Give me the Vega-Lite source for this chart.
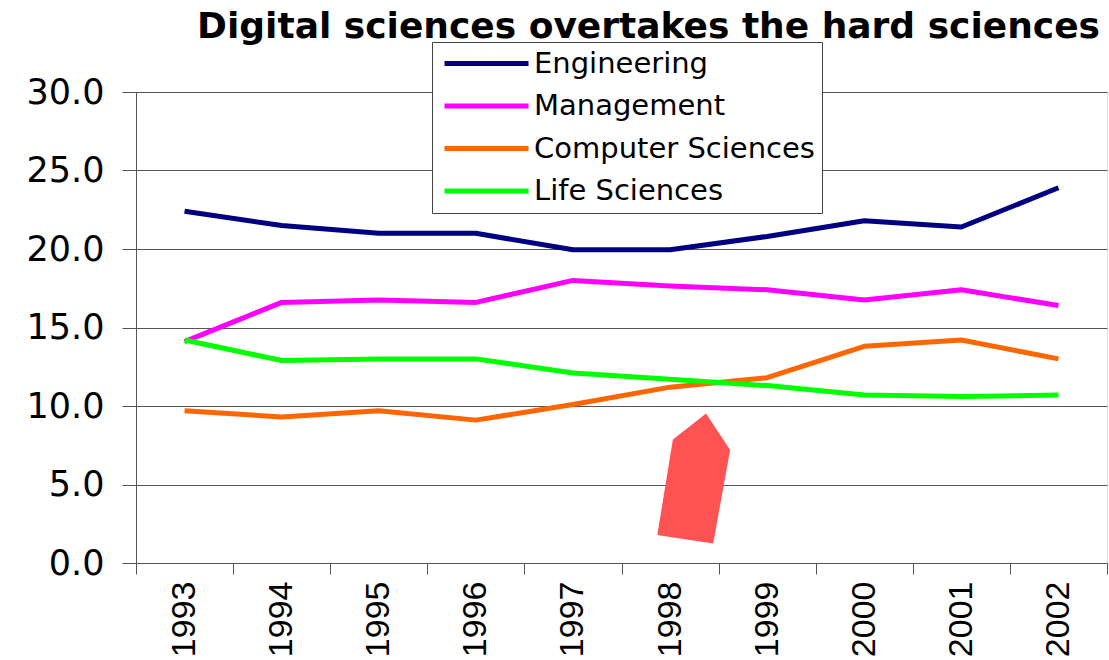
{
  "$schema": "https://vega.github.io/schema/vega-lite/v6.json",
  "width": 971,
  "height": 471,
  "autosize": {"type": "none"},
  "padding": {"left": 136, "top": 92, "right": 2, "bottom": 97},
  "background": "white",
  "title": {
    "text": "Digital sciences overtakes the hard sciences",
    "anchor": "end",
    "frame": "group",
    "font": "DejaVu Sans",
    "fontWeight": "bold",
    "fontSize": 36,
    "color": "black",
    "dx": -7,
    "dy": 4,
    "offset": 0
  },
  "datasets": {
    "main": [
      {"year": "1993", "field": "Engineering", "value": 22.4},
      {"year": "1994", "field": "Engineering", "value": 21.5},
      {"year": "1995", "field": "Engineering", "value": 21.0},
      {"year": "1996", "field": "Engineering", "value": 21.0},
      {"year": "1997", "field": "Engineering", "value": 19.95},
      {"year": "1998", "field": "Engineering", "value": 19.95},
      {"year": "1999", "field": "Engineering", "value": 20.8},
      {"year": "2000", "field": "Engineering", "value": 21.8},
      {"year": "2001", "field": "Engineering", "value": 21.4},
      {"year": "2002", "field": "Engineering", "value": 23.9},
      {"year": "1993", "field": "Management", "value": 14.1},
      {"year": "1994", "field": "Management", "value": 16.6},
      {"year": "1995", "field": "Management", "value": 16.75},
      {"year": "1996", "field": "Management", "value": 16.6},
      {"year": "1997", "field": "Management", "value": 18.0},
      {"year": "1998", "field": "Management", "value": 17.65},
      {"year": "1999", "field": "Management", "value": 17.4},
      {"year": "2000", "field": "Management", "value": 16.75},
      {"year": "2001", "field": "Management", "value": 17.4},
      {"year": "2002", "field": "Management", "value": 16.4},
      {"year": "1993", "field": "Computer Sciences", "value": 9.7},
      {"year": "1994", "field": "Computer Sciences", "value": 9.3},
      {"year": "1995", "field": "Computer Sciences", "value": 9.7},
      {"year": "1996", "field": "Computer Sciences", "value": 9.1},
      {"year": "1997", "field": "Computer Sciences", "value": 10.1},
      {"year": "1998", "field": "Computer Sciences", "value": 11.2},
      {"year": "1999", "field": "Computer Sciences", "value": 11.8},
      {"year": "2000", "field": "Computer Sciences", "value": 13.8},
      {"year": "2001", "field": "Computer Sciences", "value": 14.2},
      {"year": "2002", "field": "Computer Sciences", "value": 13.0},
      {"year": "1993", "field": "Life Sciences", "value": 14.2},
      {"year": "1994", "field": "Life Sciences", "value": 12.9},
      {"year": "1995", "field": "Life Sciences", "value": 13.0},
      {"year": "1996", "field": "Life Sciences", "value": 13.0},
      {"year": "1997", "field": "Life Sciences", "value": 12.1},
      {"year": "1998", "field": "Life Sciences", "value": 11.7},
      {"year": "1999", "field": "Life Sciences", "value": 11.3},
      {"year": "2000", "field": "Life Sciences", "value": 10.7},
      {"year": "2001", "field": "Life Sciences", "value": 10.6},
      {"year": "2002", "field": "Life Sciences", "value": 10.7}
    ],
    "arrow": [
      {"year": "1998", "value": 5.3}
    ]
  },
  "layer": [
    {
      "data": {"name": "main"},
      "mark": {"type": "line", "strokeWidth": 5, "strokeJoin": "round"},
      "encoding": {
        "x": {
          "field": "year",
          "type": "ordinal",
          "scale": {"type": "band", "paddingInner": 0, "paddingOuter": 0},
          "axis": {
            "title": null,
            "tickBand": "extent",
            "labelAngle": -90,
            "labelFont": "Liberation Sans",
            "labelFontSize": 34,
            "labelColor": "black",
            "labelPadding": 7,
            "tickSize": 11,
            "tickColor": "#555",
            "domainColor": "#555",
            "grid": false
          }
        },
        "y": {
          "field": "value",
          "type": "quantitative",
          "scale": {"domain": [0, 30], "nice": false},
          "axis": {
            "title": null,
            "values": [0, 5, 10, 15, 20, 25, 30],
            "format": ".1f",
            "labelFont": "DejaVu Sans",
            "labelFontSize": 35,
            "labelColor": "black",
            "labelPadding": 18,
            "tickSize": 14,
            "tickColor": "#555",
            "domainColor": "#555",
            "grid": true,
            "gridColor": "#555",
            "gridOpacity": 1
          }
        },
        "color": {
          "field": "field",
          "type": "nominal",
          "scale": {
            "domain": ["Engineering", "Management", "Computer Sciences", "Life Sciences"],
            "range": ["#000080", "#FF00FF", "#FF6600", "#00FF00"]
          },
          "legend": {
            "orient": "none",
            "legendX": 296,
            "legendY": -50,
            "title": null,
            "symbolType": "M-4,0H4",
            "symbolSize": 441,
            "symbolStrokeWidth": 5,
            "symbolOffset": 33,
            "labelOffset": 33,
            "labelLimit": 500,
            "labelFont": "DejaVu Sans",
            "labelFontSize": 29,
            "labelColor": "black",
            "padding": 7,
            "rowPadding": 12.5,
            "strokeColor": "#444",
            "fillColor": "white"
          }
        }
      }
    },
    {
      "data": {"name": "arrow"},
      "mark": {
        "type": "point",
        "shape": "M-0.55,0.85L-0.31,-0.62L0.2,-1.02L0.57,-0.46L0.31,0.98Z",
        "size": 16900,
        "filled": true,
        "color": "#FF5252",
        "opacity": 1,
        "xOffset": 23
      },
      "encoding": {
        "x": {"field": "year", "type": "ordinal"},
        "y": {"field": "value", "type": "quantitative"}
      }
    }
  ]
}
